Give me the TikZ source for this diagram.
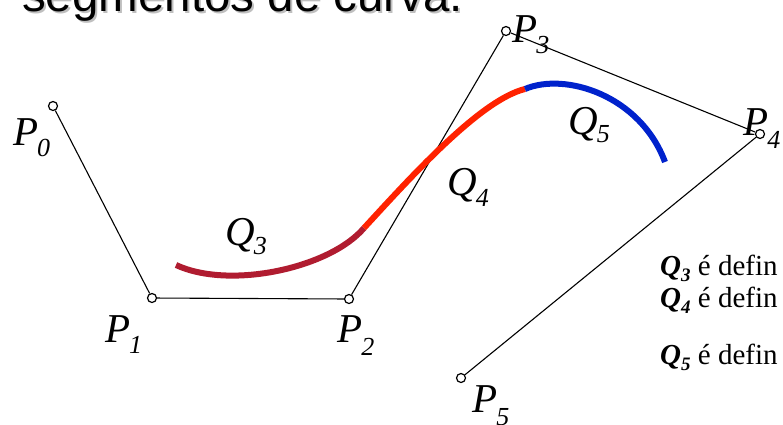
\documentclass[tikz,border=0pt]{standalone}
\usepackage{fontspec}
\setmainfont{Liberation Serif}
\newfontfamily\titlefont{Liberation Sans}

% label with a lowered subscript: letter, index, drop
\newcommand{\plab}[3]{{\fontsize{41}{41}\selectfont\itshape #1\kern-1pt\raisebox{-#3}{\fontsize{26}{26}\selectfont #2}}}
\newcommand{\qdef}[1]{{\bfseries\itshape Q\raisebox{-6pt}{\fontsize{19}{19}\selectfont #1}} é defin}

\definecolor{qthree}{RGB}{176,28,48}
\definecolor{qfour}{RGB}{255,34,0}
\definecolor{qfive}{RGB}{0,34,204}

\begin{document}
\begin{tikzpicture}[x=1pt,y=-1pt,
  ctrl/.style={circle, draw=black, fill=white, line width=1.2pt, inner sep=0pt, minimum size=9pt},
  poly/.style={black, line width=1.1pt},
  seg/.style={line width=6pt},
  lbl/.style={anchor=base west, inner sep=0pt}]
\useasboundingbox (0,0) rectangle (783,424);
% title, cut at the top
\node[lbl, text=black!25, font=\titlefont\fontsize{47.5}{48}\selectfont] (shadow) at (24,13) {segmentos de curva.};
\node[lbl, font=\titlefont\fontsize{47.5}{48}\selectfont] (title) at (22,11) {segmentos de curva.};
% control polygon
\node[ctrl] (P0) at (53,106) {};
\node[ctrl] (P1) at (152,298) {};
\node[ctrl] (P2) at (349,299) {};
\node[ctrl] (P3) at (506,31) {};
\node[ctrl] (P4) at (760,134) {};
\node[ctrl] (P5) at (461,378) {};
\draw[poly] (P0) -- (P1) -- (P2) -- (P3) -- (P4) -- (P5);
% curve segments
\coordinate (k3) at (176,265);
\coordinate (k4) at (364,228);
\coordinate (k5) at (525,89);
\coordinate (k6) at (665,162);
\draw[seg, qthree] (k3) .. controls (230,290) and (330,268) .. (k4);
\draw[seg, qfour] (k4) .. controls (410,178) and (480,100) .. (k5);
\draw[seg, qfive] (k5) .. controls (565,72) and (640,95) .. (k6);
% labels
\node[lbl] (l0) at (13,145) {\plab{P}{0}{11pt}};
\node[lbl] (l1) at (105,342) {\plab{P}{1}{11pt}};
\node[lbl] (l2) at (337,342) {\plab{P}{2}{13pt}};
\node[lbl] (l3) at (512,42) {\plab{P}{3}{11pt}};
\node[lbl] (l4) at (743,135) {\plab{P}{4}{13pt}};
\node[lbl] (l5) at (472,412) {\plab{P}{5}{13pt}};
\node[lbl] (m3) at (225,245) {\plab{Q}{3}{9pt}};
\node[lbl] (m4) at (447,195) {\plab{Q}{4}{11pt}};
\node[lbl] (m5) at (568,134) {\plab{Q}{5}{8pt}};
% side notes
\node[lbl, font=\fontsize{29}{29}\selectfont] (d3) at (660,275) {\qdef{3}};
\node[lbl, font=\fontsize{29}{29}\selectfont] (d4) at (660,307) {\qdef{4}};
\node[lbl, font=\fontsize{29}{29}\selectfont] (d5) at (660,364) {\qdef{5}};
\end{tikzpicture}
\end{document}
